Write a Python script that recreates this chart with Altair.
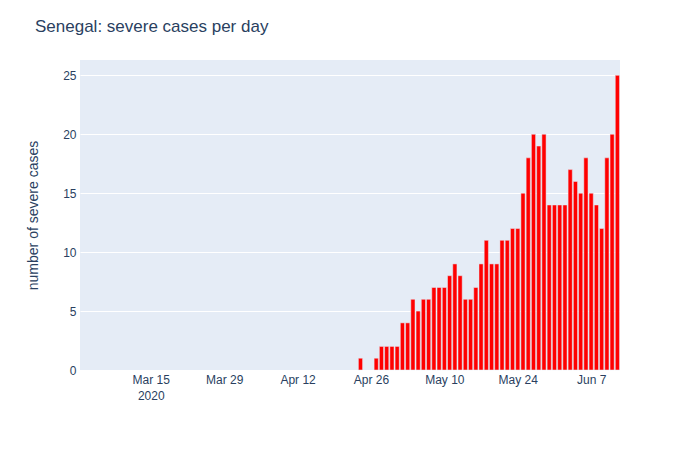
import altair as alt
import pandas as pd

# daily dates from 2020-03-02 to 2020-06-12
dates = pd.date_range("2020-03-02", "2020-06-12", freq="D").strftime("%Y-%m-%d").tolist()

severe = [
    # Mar 2 - Mar 31
    0, 0, 0, 0, 0, 0, 0, 0, 0, 0, 0, 0, 0, 0, 0,
    0, 0, 0, 0, 0, 0, 0, 0, 0, 0, 0, 0, 0, 0, 0,
    # Apr 1 - Apr 23
    0, 0, 0, 0, 0, 0, 0, 0, 0, 0, 0, 0, 0, 0, 0,
    0, 0, 0, 0, 0, 0, 0, 0,
    # Apr 24 - Apr 30
    1, 0, 0, 1, 2, 2, 2,
    # May 1 - May 31
    2, 4, 4, 6, 5, 6, 6, 7, 7, 7, 8, 9, 8, 6, 6, 7,
    9, 11, 9, 9, 11, 11, 12, 12, 15, 18, 20, 19, 20, 14, 14,
    # Jun 1 - Jun 12
    14, 14, 17, 16, 15, 18, 15, 14, 12, 18, 20, 25,
]

tick_days = [(3, 15), (3, 29), (4, 12), (4, 26), (5, 10), (5, 24), (6, 7)]
y_ticks = [0, 5, 10, 15, 20, 25]

df = pd.DataFrame({"date": dates, "severe": severe})

font = "Liberation Sans"
ink = "#2a3f5f"

label_expr = (
    "(utcmonth(datum.value) == 2 && utcdate(datum.value) == 15) ? "
    "[utcFormat(datum.value, '%b') + ' ' + utcdate(datum.value), '2020'] : "
    "utcFormat(datum.value, '%b') + ' ' + utcdate(datum.value)"
)

chart = (
    alt.Chart(df)
    .transform_filter("datum.severe > 0")
    .transform_calculate(
        d0="toDate(datum.date) - 0.4 * 86400000",
        d1="toDate(datum.date) + 0.4 * 86400000",
    )
    .mark_bar(color="red", stroke="#E5ECF6", strokeWidth=0.5)
    .encode(
        x=alt.X(
            "d0:T",
            scale=alt.Scale(
                type="utc",
                domain=[
                    alt.DateTime(year=2020, month=3, date=1, hours=12, utc=True),
                    alt.DateTime(year=2020, month=6, date=12, hours=12, utc=True),
                ],
            ),
            axis=alt.Axis(
                values=[alt.DateTime(year=2020, month=m, date=d, utc=True) for m, d in tick_days],
                labelExpr=label_expr,
                grid=False,
                domain=False,
                ticks=False,
                labelPadding=4,
                labelFontSize=12,
                labelColor=ink,
                labelFont=font,
                labelLineHeight=16,
                title=None,
            ),
        ),
        x2="d1:T",
        y=alt.Y(
            "severe:Q",
            scale=alt.Scale(domain=[0, 26.3], nice=False),
            axis=alt.Axis(
                values=y_ticks,
                grid=True,
                gridColor="white",
                gridWidth=1,
                domain=False,
                ticks=False,
                labelPadding=4,
                labelFontSize=12,
                labelColor=ink,
                labelFont=font,
                title="number of severe cases",
                titleFont=font,
                titleFontSize=14,
                titleFontWeight="normal",
                titleColor=ink,
                titlePadding=22,
            ),
        ),
        y2=alt.datum(0),
    )
    .properties(
        width=540,
        height=310,
        autosize=alt.AutoSizeParams(type="none"),
        padding={"left": 72, "top": 52, "right": 60, "bottom": 72},
        title=alt.TitleParams(
            "Senegal: severe cases per day",
            anchor="start",
            frame="group",
            font=font,
            fontSize=17,
            fontWeight="normal",
            color=ink,
            dx=-45,
            offset=24,
        ),
    )
    .configure_view(fill="#E5ECF6", stroke=None)
)

chart.save("out.html", embed_options={"renderer": "svg", "actions": False})
